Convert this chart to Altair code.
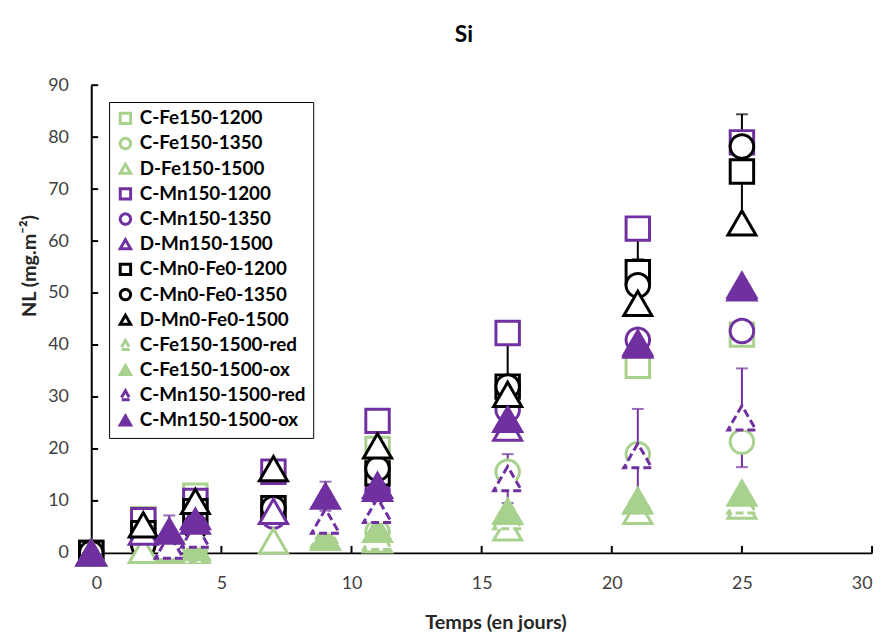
import altair as alt
import pandas as pd

# ---------------- data ----------------
series = [
    "C-Fe150-1200", "C-Fe150-1350", "D-Fe150-1500",
    "C-Mn150-1200", "C-Mn150-1350", "D-Mn150-1500",
    "C-Mn0-Fe0-1200", "C-Mn0-Fe0-1350", "D-Mn0-Fe0-1500",
    "C-Fe150-1500-red", "C-Fe150-1500-ox",
    "C-Mn150-1500-red", "C-Mn150-1500-ox",
]

days_main = [0, 2, 4, 7, 11, 16, 21, 25]
days_treat = [0, 3, 4, 9, 11, 16, 21, 25]

c_fe150_1200 = [0, 6.5, 11.0, 8.6, 20.0, 31.0, 36.0, 42.0]
c_fe150_1350 = [0, 1.5, 1.0, 8.5, 4.0, 15.6, 19.0, 21.4]
d_fe150_1500 = [0, 0.5, 0.5, 2.3, 2.5, 4.8, 8.0, 9.0]
c_mn150_1200 = [0, 6.3, 10.0, 15.6, 25.4, 42.3, 62.4, 79.0]
c_mn150_1350 = [0, 3.5, 8.0, 7.0, 12.0, 27.5, 41.0, 42.7]
d_mn150_1500 = [0, 4.0, 7.0, 8.0, 13.0, 24.0, 40.0, 51.0]
c_mn0fe0_1200 = [0, 3.8, 8.0, 8.6, 15.3, 32.0, 54.0, 73.4]
c_mn0fe0_1350 = [0, 1.5, 5.0, 8.6, 16.2, 32.0, 51.5, 78.2]
d_mn0fe0_1500 = [0, 5.4, 9.9, 16.2, 20.6, 30.5, 48.0, 63.5]
c_fe150_1500_red = [0, 0.5, 0.5, 3.5, 3.0, 7.0, 10.0, 10.0]
c_fe150_1500_ox = [0, 0.5, 1.0, 3.0, 4.5, 8.0, 10.0, 11.5]
c_mn150_1500_red = [0, 1.3, 3.4, 6.1, 8.2, 14.3, 18.7, 26.0]
c_mn150_1500_ox = [0, 4.2, 6.1, 10.9, 12.4, 25.7, 40.4, 51.5]

values = [
    c_fe150_1200, c_fe150_1350, d_fe150_1500,
    c_mn150_1200, c_mn150_1350, d_mn150_1500,
    c_mn0fe0_1200, c_mn0fe0_1350, d_mn0fe0_1500,
    c_fe150_1500_red, c_fe150_1500_ox,
    c_mn150_1500_red, c_mn150_1500_ox,
]
uses_treat_days = [False] * 9 + [True] * 4

# error bars (series, day, +/- value)
err_series = ["C-Mn0-Fe0-1200", "C-Mn150-1500-red",
              "C-Mn0-Fe0-1350", "C-Mn0-Fe0-1200", "C-Mn150-1500-red",
              "C-Mn0-Fe0-1200", "C-Mn150-1500-red",
              "C-Mn150-1500-ox", "C-Mn150-1500-ox"]
err_day = [25, 25, 21, 21, 21, 16, 16, 9, 3]
err_val = [11.0, 9.5, 5.0, 8.0, 9.0, 9.0, 4.7, 2.8, 3.0]

x_ticks = [5, 10, 15, 20, 25, 30]
y_ticks = [10, 20, 30, 40, 50, 60, 70, 80, 90]

# ---------------- styles ----------------
GREEN = "#A9D18E"
PURPLE = "#7030A0"
BLACK = "#000000"
stroke_colors = [GREEN] * 3 + [PURPLE] * 3 + [BLACK] * 3 + [GREEN, GREEN, PURPLE, PURPLE]
fill_colors = ["white"] * 9 + ["white", GREEN, "white", PURPLE]
shapes = ["square", "circle", "triangle-up"] * 3 + ["triangle-up"] * 4
dashes = [[1, 0]] * 9 + [[8, 4], [1, 0], [8, 4], [1, 0]]

FONT = "Lato"

# ---------------- tables ----------------
rows = []
for i, (name, ys) in enumerate(zip(series, values)):
    xs = days_treat if uses_treat_days[i] else days_main
    for x, y in zip(xs, ys):
        rows.append({"series": name, "day": x, "nl": y, "idx": i,
                     "tri": shapes[i] == "triangle-up"})
df = pd.DataFrame(rows)

erows = []
for s, d, e in zip(err_series, err_day, err_val):
    i = series.index(s)
    xs = days_treat if uses_treat_days[i] else days_main
    y = values[i][xs.index(d)]
    erows.append({"series": s, "day": d, "lo": y - e, "hi": y + e,
                  "col": stroke_colors[i]})
edf = pd.DataFrame(erows)

W, H = 788, 472

xscale = alt.Scale(domain=[0, 30], nice=False)
yscale = alt.Scale(domain=[0, 90], nice=False)

legend = alt.Legend(
    title=None, orient="none", legendX=18, legendY=17,
    strokeColor="black", fillColor="white", padding=7,
    labelFont=FONT, labelFontSize=19, labelFontWeight="bold", labelColor="black",
    symbolSize=110, symbolStrokeWidth=3, rowPadding=2.4, labelLimit=400,
    labelOffset=5,
)

x_axis = alt.Axis(
    values=x_ticks + [0], grid=False, ticks=False, domainColor="black", domainWidth=2,
    labelFont=FONT, labelFontSize=18, labelColor="#404040", labelPadding=22,
    title="Temps (en jours)", titleFont=FONT, titleFontSize=20, titleFontWeight="bold",
    titleColor="#262626", titleX=408, titleY=70, titleBaseline="middle",
)
y_axis = alt.Axis(
    values=y_ticks + [0], grid=False, ticks=False, domainColor="black", domainWidth=2,
    labelFont=FONT, labelFontSize=18, labelColor="#404040", labelPadding=23,
    title="NL (mg.m⁻²)", titleFont=FONT, titleFontSize=20, titleFontWeight="bold",
    titleColor="#262626", titleX=-62, titleY=182, titleAngle=-90,
    titleBaseline="middle", titleAlign="center",
)

# inside tick marks
xt = alt.Chart(pd.DataFrame({"v": x_ticks})).mark_rule(color="black", strokeWidth=2).encode(
    x=alt.X("v:Q", scale=xscale, axis=x_axis), y=alt.value(H), y2=alt.value(H - 7)
)
yt = alt.Chart(pd.DataFrame({"v": y_ticks})).mark_rule(color="black", strokeWidth=2).encode(
    y=alt.Y("v:Q", scale=yscale, axis=y_axis), x=alt.value(0), x2=alt.value(7)
)

err_rules = alt.Chart(edf).mark_rule(strokeWidth=2).encode(
    x=alt.X("day:Q", scale=xscale, axis=x_axis),
    y=alt.Y("lo:Q", scale=yscale, axis=y_axis),
    y2="hi:Q",
    stroke=alt.Stroke("col:N", scale=None),
)
cap_lo = alt.Chart(edf).mark_tick(orient="horizontal", size=12, thickness=2).encode(
    x=alt.X("day:Q", scale=xscale, axis=x_axis),
    y=alt.Y("lo:Q", scale=yscale, axis=y_axis),
    color=alt.Color("col:N", scale=None),
)
cap_hi = alt.Chart(edf).mark_tick(orient="horizontal", size=12, thickness=2).encode(
    x=alt.X("day:Q", scale=xscale, axis=x_axis),
    y=alt.Y("hi:Q", scale=yscale, axis=y_axis),
    color=alt.Color("col:N", scale=None),
)

enc = dict(
    x=alt.X("day:Q", scale=xscale, axis=x_axis),
    y=alt.Y("nl:Q", scale=yscale, axis=y_axis),
    shape=alt.Shape("series:N", scale=alt.Scale(domain=series, range=shapes), legend=legend),
    stroke=alt.Stroke("series:N", scale=alt.Scale(domain=series, range=stroke_colors), legend=legend),
    fill=alt.Fill("series:N", scale=alt.Scale(domain=series, range=fill_colors), legend=legend),
    strokeDash=alt.StrokeDash("series:N", scale=alt.Scale(domain=series, range=dashes), legend=legend),
    order=alt.Order("idx:Q"),
)

pts_other = alt.Chart(df).transform_filter("!datum.tri").mark_point(
    strokeWidth=3, opacity=1, fillOpacity=1, size=560
).encode(**enc)
pts_tri = alt.Chart(df).transform_filter("datum.tri").mark_point(
    strokeWidth=3, opacity=1, fillOpacity=1, size=800
).encode(**enc)

chart = alt.layer(xt, yt, err_rules, cap_lo, cap_hi, pts_other, pts_tri).properties(
    width=W, height=H,
    title=alt.Title("Si", font=FONT, fontSize=23, fontWeight="bold", color="black",
                    anchor="middle", offset=30, dx=-18),
    autosize=alt.AutoSizeParams(type="none"),
    padding={"left": 84, "top": 75, "right": 6, "bottom": 82},
).configure_view(stroke=None)

chart.save("out.html", embed_options={"renderer": "svg", "actions": False})
